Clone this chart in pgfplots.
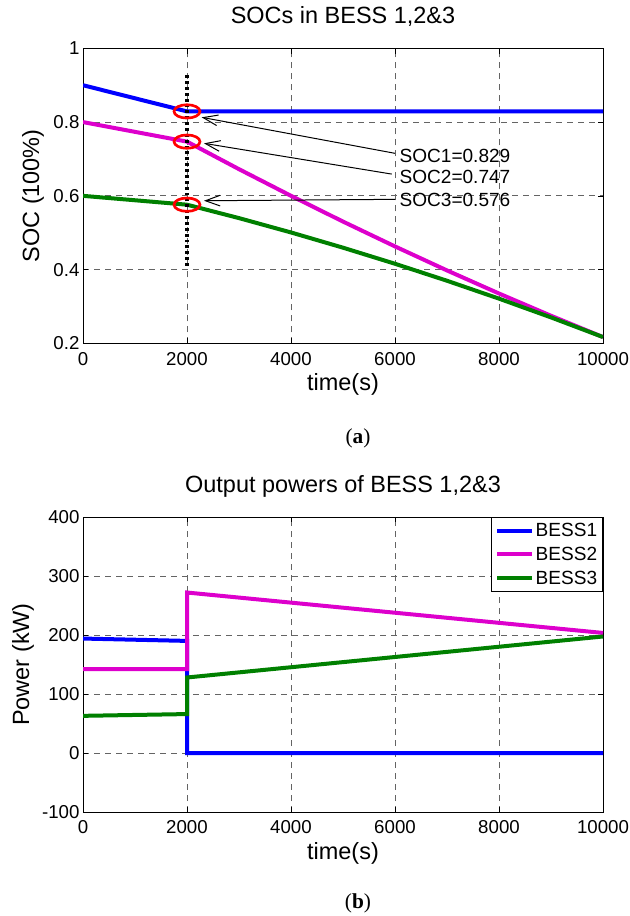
\documentclass[border=0pt]{standalone}
\usepackage{fontspec}
\setmainfont{Liberation Sans}
\newfontfamily\capfont{Liberation Serif}
\usepackage{pgfplots}
\pgfplotsset{compat=1.18}
\usetikzlibrary{arrows.meta}
\definecolor{mblue}{RGB}{0,0,255}
\definecolor{mmag}{RGB}{221,0,204}
\definecolor{mgreen}{RGB}{0,128,0}
\definecolor{mgrid}{RGB}{100,100,100}

\pgfplotsset{mystyle/.style={
  width=390pt, height=221.25pt, scale only axis,
  xmin=0, xmax=10000, xtick={0,2000,4000,6000,8000,10000},
  scaled x ticks=false, scaled y ticks=false,
  /pgf/number format/assume math mode=true,
  /pgf/number format/1000 sep={},
  tick align=inside, major tick length=4pt,
  tick style={black, line width=0.5pt},
  axis line style={black, line width=0.75pt},
  grid=major,
  major grid style={mgrid, line width=0.6pt, dash pattern=on 4.5pt off 3.75pt},
  ticklabel style={font=\fontsize{14}{16}\selectfont},
  xticklabel style={anchor=base, yshift=-16.3pt},
  yticklabel style={anchor=east, inner xsep=0pt, xshift=-2.5pt},
  label style={font=\fontsize{17.6}{20}\selectfont},
  xlabel style={at={(axis description cs:0.5,0)}, anchor=base, yshift=-35.5pt},
  title style={font=\fontsize{17.6}{20}\selectfont, at={(axis description cs:0.5,1)}, anchor=base, yshift=12.5pt},
}}

\begin{document}
\begin{tikzpicture}
\useasboundingbox (0,0) rectangle (471.75pt,-687pt);

% ---------- (a) SOCs ----------
\begin{axis}[mystyle, at={(62.25pt,-257.5pt)}, anchor=south west,
  ymin=0.2, ymax=1, ytick={0.2,0.4,0.6,0.8,1},
  title={SOCs in BESS 1,2\&3},
  xlabel={time(s)},
  ylabel={SOC (100\%)},
  ylabel style={at={(axis description cs:-0.0962,0.5)}, anchor=center},
]
\addplot[mblue, line width=3pt] coordinates {(0,0.9) (2000,0.829) (10000,0.829)};
\addplot[mmag, line width=3pt] coordinates {(0,0.8) (2000,0.747) (3000,0.6723) (4000,0.6001) (5000,0.5302) (6000,0.4628) (7000,0.3977) (8000,0.3351) (9000,0.2748) (10000,0.217)};
\addplot[mgreen, line width=3pt] coordinates {(0,0.6) (2000,0.576) (3000,0.5396) (4000,0.5007) (5000,0.4594) (6000,0.4158) (7000,0.3697) (8000,0.3212) (9000,0.2703) (10000,0.217)};
\addplot[black, line width=2.5pt, dash pattern=on 2.2pt off 2.2pt] coordinates {(2000,0.41) (2000,0.93)};
\addplot[only marks, mark=o, mark size=5pt, mark options={xscale=1.95, draw=red, line width=2pt}] coordinates {(2000,0.829) (2000,0.747) (2000,0.576)};
\draw[line width=0.75pt, -{Straight Barb[length=11pt,width=8pt]}] (axis cs:6000,0.7153) -- (axis cs:2283,0.8129);
\draw[line width=0.75pt, -{Straight Barb[length=11pt,width=8pt]}] (axis cs:5937,0.659) -- (axis cs:2327,0.7424);
\draw[line width=0.75pt, -{Straight Barb[length=11pt,width=8pt]}] (axis cs:6000,0.5905) -- (axis cs:2327,0.5867);
\node[anchor=west, inner sep=0pt, font=\fontsize{14.3}{16}\selectfont] at (axis cs:6083,0.708) {SOC1=0.829};
\node[anchor=west, inner sep=0pt, font=\fontsize{14.3}{16}\selectfont] at (axis cs:6083,0.652) {SOC2=0.747};
\node[anchor=west, inner sep=0pt, font=\fontsize{14.3}{16}\selectfont] at (axis cs:6083,0.5886) {SOC3=0.576};
\end{axis}

\node[font=\capfont\fontsize{16}{19}\selectfont] at (268.5pt,-328.5pt) {(\textbf{a})};

% ---------- (b) Powers ----------
\begin{axis}[mystyle, at={(62.25pt,-609pt)}, anchor=south west,
  ymin=-100, ymax=400, ytick={-100,0,100,200,300,400},
  title={Output powers of BESS 1,2\&3},
  xlabel={time(s)},
  ylabel={Power (kW)},
  ylabel style={at={(axis description cs:-0.1154,0.5)}, anchor=center},
  legend style={at={(1,1)}, anchor=north east, draw=black, line width=0.75pt,
    font=\fontsize{14.3}{16}\selectfont, inner xsep=2.5pt, inner ysep=2.5pt,
    row sep=3.5pt, nodes={inner sep=1.5pt}, cells={anchor=west}},
  legend image code/.code={\draw[#1] (0pt,0pt) -- (26pt,0pt);},
]
\addplot[mblue, line width=3pt] coordinates {(0,194) (2000,190) (2000,0) (10000,0)};
\addplot[mmag, line width=3pt] coordinates {(0,142) (2000,142) (2000,272) (10000,203.5)};
\addplot[mgreen, line width=3pt] coordinates {(0,63) (2000,66) (2000,128) (10000,197.5)};
\legend{BESS1,BESS2,BESS3}
\end{axis}

\node[font=\capfont\fontsize{16}{19}\selectfont] at (268.5pt,-677.25pt) {(\textbf{b})};
\end{tikzpicture}
\end{document}
